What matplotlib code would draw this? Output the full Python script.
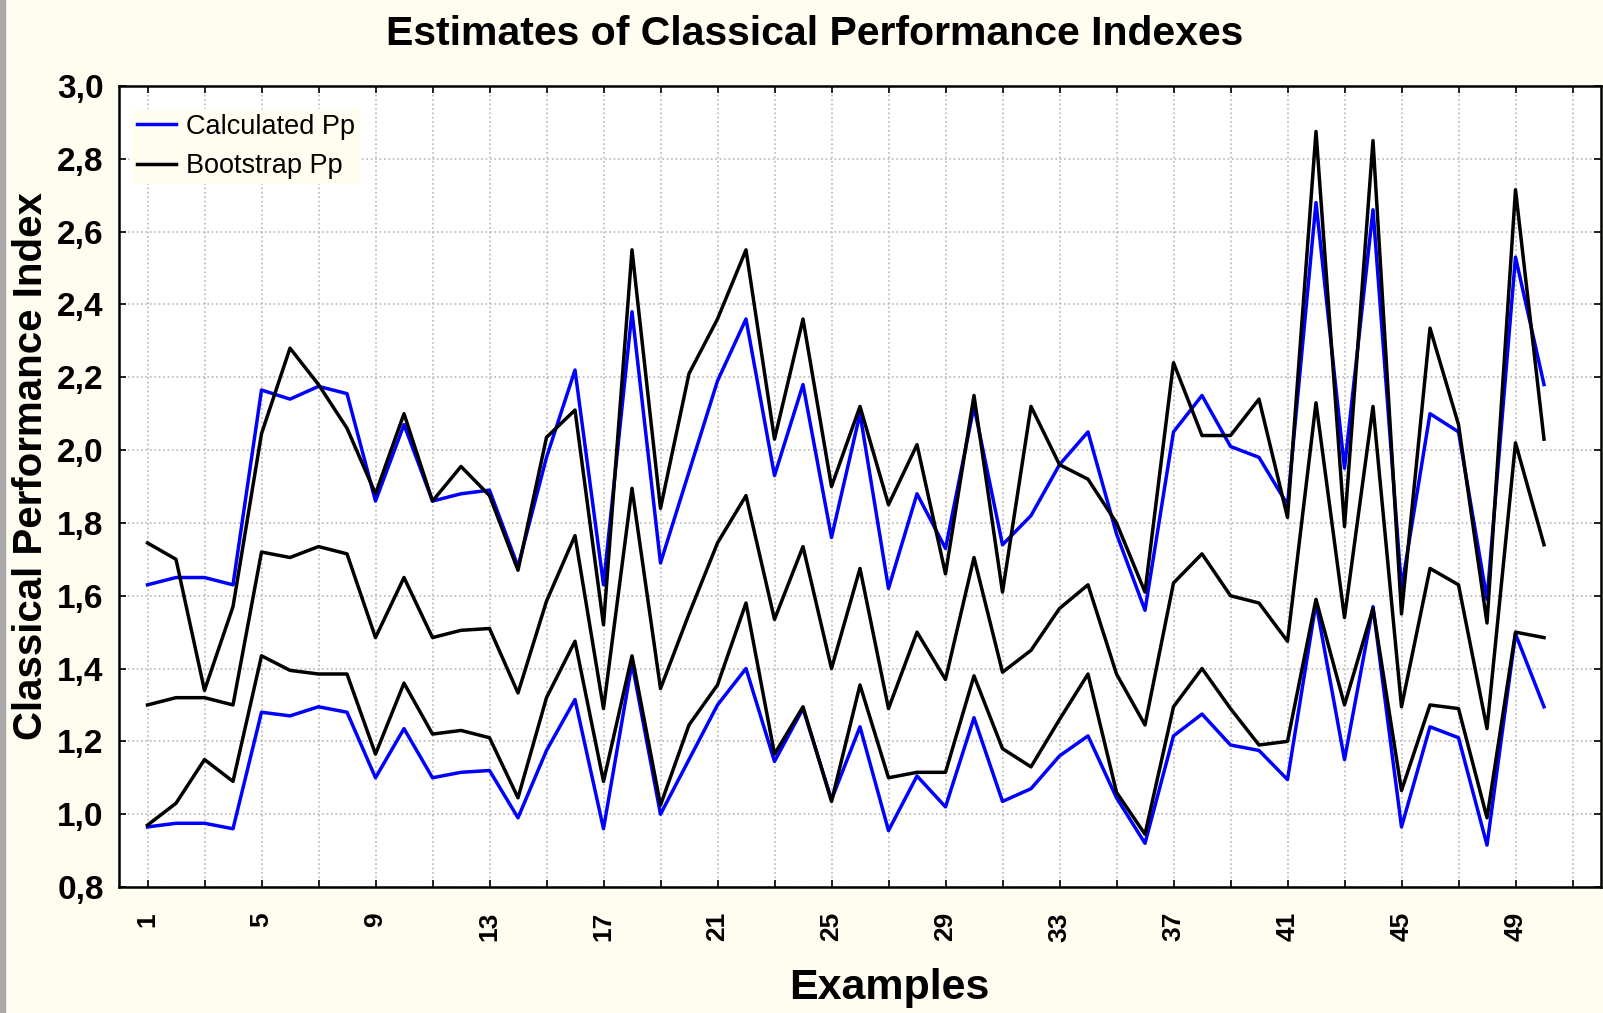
import numpy as np
import matplotlib
matplotlib.use('Agg')
import matplotlib.pyplot as plt
from matplotlib.patches import Rectangle

examples = list(range(1, 51))

calc_upper = [1.63, 1.65, 1.65, 1.63, 2.165, 2.14, 2.175, 2.155, 1.86, 2.07,
              1.86, 1.88, 1.89, 1.68, 1.98, 2.22, 1.63, 2.38, 1.69, 1.94,
              2.19, 2.36, 1.93, 2.18, 1.76, 2.10, 1.62, 1.88, 1.73, 2.12,
              1.74, 1.82, 1.96, 2.05, 1.77, 1.56, 2.05, 2.15, 2.01, 1.98,
              1.85, 2.68, 1.95, 2.66, 1.62, 2.10, 2.05, 1.59, 2.53, 2.18]
calc_lower = [0.965, 0.975, 0.975, 0.96, 1.28, 1.27, 1.295, 1.28, 1.10, 1.235,
              1.10, 1.115, 1.12, 0.99, 1.175, 1.315, 0.96, 1.415, 1.0, 1.15,
              1.30, 1.40, 1.145, 1.29, 1.04, 1.24, 0.955, 1.105, 1.02, 1.265,
              1.035, 1.07, 1.16, 1.215, 1.045, 0.92, 1.215, 1.275, 1.19, 1.175,
              1.095, 1.58, 1.15, 1.57, 0.965, 1.24, 1.21, 0.915, 1.495, 1.295]

boot_upper = [1.745, 1.70, 1.34, 1.57, 2.045, 2.28, 2.18, 2.06, 1.88, 2.10,
              1.86, 1.955, 1.875, 1.67, 2.035, 2.11, 1.52, 2.55, 1.84, 2.21,
              2.36, 2.55, 2.03, 2.36, 1.90, 2.12, 1.85, 2.015, 1.66, 2.15,
              1.61, 2.12, 1.96, 1.92, 1.80, 1.61, 2.24, 2.04, 2.04, 2.14,
              1.815, 2.875, 1.79, 2.85, 1.55, 2.335, 2.07, 1.525, 2.715, 2.03]
boot_mid = [1.30, 1.32, 1.32, 1.30, 1.72, 1.705, 1.735, 1.715, 1.485, 1.65,
            1.485, 1.505, 1.51, 1.333, 1.585, 1.765, 1.29, 1.895, 1.345, 1.55,
            1.745, 1.875, 1.535, 1.735, 1.40, 1.675, 1.29, 1.50, 1.37, 1.705,
            1.39, 1.45, 1.565, 1.63, 1.385, 1.245, 1.635, 1.715, 1.60, 1.58,
            1.475, 2.13, 1.54, 2.12, 1.295, 1.675, 1.63, 1.235, 2.02, 1.74]
boot_lower = [0.97, 1.03, 1.15, 1.09, 1.435, 1.395, 1.385, 1.385, 1.165, 1.36,
              1.22, 1.23, 1.21, 1.045, 1.32, 1.475, 1.09, 1.435, 1.025, 1.245,
              1.355, 1.58, 1.165, 1.295, 1.035, 1.355, 1.10, 1.115, 1.115, 1.38,
              1.18, 1.13, 1.26, 1.385, 1.06, 0.945, 1.295, 1.40, 1.29, 1.19,
              1.20, 1.59, 1.30, 1.565, 1.065, 1.30, 1.29, 0.99, 1.50, 1.485]

yticks = [0.8, 1.0, 1.2, 1.4, 1.6, 1.8, 2.0, 2.2, 2.4, 2.6, 2.8, 3.0]
xticks = list(range(1, 52, 2))

font = ['Liberation Sans', 'DejaVu Sans']
cream = '#FFFCF0'

fig = plt.figure(figsize=(16.03, 10.13), dpi=100, facecolor=cream)
fig.patches.append(Rectangle((0, 0), 5 / 1603, 1, transform=fig.transFigure,
                             color='#A9A9A9', zorder=0))
ax = fig.add_axes([119 / 1603, 126 / 1013, 1482 / 1603, 801 / 1013])
ax.set_facecolor('white')

ax.plot(examples, calc_upper, color='#0000FF', lw=2.5, label='Calculated Pp')
ax.plot(examples, calc_lower, color='#0000FF', lw=2.5)
ax.plot(examples, boot_upper, color='black', lw=2.5, label='Bootstrap Pp')
ax.plot(examples, boot_mid, color='black', lw=2.5)
ax.plot(examples, boot_lower, color='black', lw=2.5)

ax.set_xlim(0, 52)
ax.set_ylim(0.8, 3.0)
ax.set_xticks(xticks)
ax.set_xticklabels([str(v) if (v - 1) % 4 == 0 else '' for v in xticks],
                   rotation=90, family=font, fontweight='bold', fontsize=19)
ax.set_yticks(yticks)
ax.set_yticklabels([('%.1f' % v).replace('.', ',') for v in yticks],
                   family=font, fontweight='bold', fontsize=24)
ax.tick_params(direction='in', length=5, width=1.2, top=True, right=True)
ax.tick_params(axis='x', pad=18)
ax.tick_params(axis='y', pad=11)
ax.grid(True, linestyle=':', color='#B8B8B8', lw=1.2)
for s in ax.spines.values():
    s.set_linewidth(1.8)

leg = ax.legend(loc='upper left', bbox_to_anchor=(13 / 1482, 1 - 23 / 801),
                borderaxespad=0, frameon=True, fancybox=False,
                prop={'family': font, 'size': 19.5}, handlelength=1.45,
                handletextpad=0.37, labelspacing=0.5, borderpad=0.18)
leg.get_frame().set_facecolor(cream)
leg.get_frame().set_edgecolor('none')
leg.get_frame().set_alpha(1)

fig.text(815 / 1603, 1 - 34 / 1013, 'Estimates of Classical Performance Indexes',
         ha='center', va='center', family=font, fontweight='bold', fontsize=29.5)
fig.text(889 / 1603, 1 - 988 / 1013, 'Examples', ha='center', va='center',
         family=font, fontweight='bold', fontsize=31)
fig.text(31 / 1603, 1 - 466 / 1013, 'Classical Performance Index', rotation=90,
         ha='center', va='center', family=font, fontweight='bold', fontsize=29)

fig.savefig('out.png', dpi=100, facecolor=cream)
